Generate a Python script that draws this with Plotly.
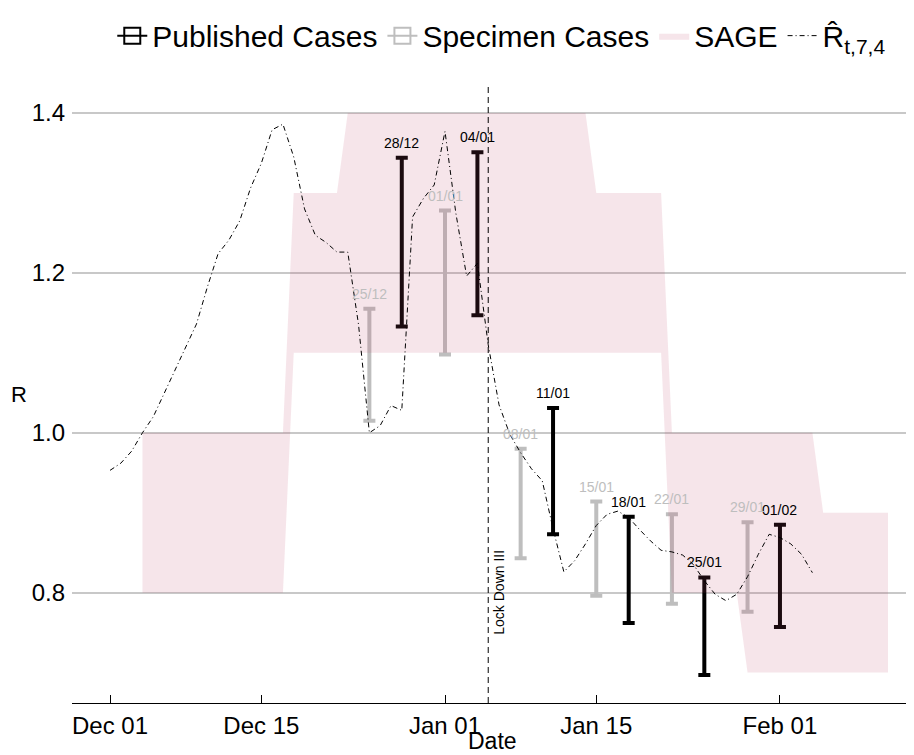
import pandas as pd
import plotly.graph_objects as go

# ---------------- data ----------------
r_hat_start = "2020-12-01"
r_hat = [0.953, 0.962, 0.977, 1.000, 1.020, 1.049, 1.078, 1.105, 1.136, 1.182,
         1.224, 1.241, 1.265, 1.306, 1.337, 1.379, 1.386, 1.345, 1.280, 1.247,
         1.238, 1.226, 1.226, 1.135, 1.000, 1.009, 1.034, 1.028, 1.270, 1.293,
         1.310, 1.377, 1.275, 1.196, 1.212, 1.110, 1.035, 0.998, 0.975, 0.955,
         0.940, 0.880, 0.826, 0.840, 0.861, 0.884, 0.898, 0.902, 0.894, 0.879,
         0.865, 0.853, 0.851, 0.847, 0.835, 0.815, 0.798, 0.790, 0.798, 0.820,
         0.848, 0.873, 0.869, 0.861, 0.848, 0.825]

sage_dates = ["2020-12-04", "2020-12-17", "2020-12-18", "2020-12-22", "2020-12-23",
              "2021-01-14", "2021-01-15", "2021-01-21", "2021-01-22", "2021-01-28",
              "2021-01-29", "2021-02-04", "2021-02-05", "2021-02-11"]
sage_low = [0.8, 0.8, 1.1, 1.1, 1.1, 1.1, 1.1, 1.1, 0.8, 0.8, 0.7, 0.7, 0.7, 0.7]
sage_high = [1.0, 1.0, 1.3, 1.3, 1.4, 1.4, 1.3, 1.3, 1.0, 1.0, 1.0, 1.0, 0.9, 0.9]

pub_dates = ["2020-12-28", "2021-01-04", "2021-01-11", "2021-01-18", "2021-01-25", "2021-02-01"]
pub_low = [1.133, 1.147, 0.873, 0.762, 0.697, 0.757]
pub_high = [1.344, 1.351, 1.031, 0.895, 0.819, 0.885]
pub_labels = ["28/12", "04/01", "11/01", "18/01", "25/01", "01/02"]

spec_dates = ["2020-12-25", "2021-01-01", "2021-01-08", "2021-01-15", "2021-01-22", "2021-01-29"]
spec_low = [1.015, 1.098, 0.843, 0.796, 0.786, 0.776]
spec_high = [1.155, 1.278, 0.980, 0.914, 0.898, 0.888]
spec_labels = ["25/12", "01/01", "08/01", "15/01", "22/01", "29/01"]

lockdown_date = "2021-01-05"
lockdown_label_date = "2021-01-06"
lockdown_label_y = 0.8
lockdown_label = "Lock Down III"

x_ticks = ["2020-12-01", "2020-12-15", "2021-01-01", "2021-01-15", "2021-02-01"]
x_ticktext = ["Dec 01", "Dec 15", "Jan 01", "Jan 15", "Feb 01"]
y_ticks = [0.8, 1.0, 1.2, 1.4]
y_ticktext = ["0.8", "1.0", "1.2", "1.4"]

# ---------------- styles ----------------
FONT = "Liberation Sans, Arial, Helvetica, sans-serif"
BLACK = "#000000"
GREY = "#BEBEBE"
PINK = "rgba(190,73,109,0.14)"

r_dates = pd.date_range(r_hat_start, periods=len(r_hat), freq="D")

def mids(lo, hi):
    return [(a + b) / 2 for a, b in zip(lo, hi)], [(b - a) / 2 for a, b in zip(lo, hi)]

pub_mid, pub_half = mids(pub_low, pub_high)
spec_mid, spec_half = mids(spec_low, spec_high)

fig = go.Figure()

# error bars (drawn first so the ribbon tints them)
fig.add_trace(go.Scatter(
    x=pub_dates, y=pub_mid, mode="markers", marker=dict(size=1, opacity=0),
    error_y=dict(type="data", array=pub_half, symmetric=True, color=BLACK,
                 thickness=4, width=6),
    showlegend=False, hoverinfo="skip"))
fig.add_trace(go.Scatter(
    x=spec_dates, y=spec_mid, mode="markers", marker=dict(size=1, opacity=0),
    error_y=dict(type="data", array=spec_half, symmetric=True, color=GREY,
                 thickness=4, width=6),
    showlegend=False, hoverinfo="skip"))

# legend entries for the error bars
fig.add_trace(go.Scatter(
    x=[None], y=[None], mode="lines+markers", name="Published Cases",
    line=dict(color=BLACK, width=2),
    marker=dict(symbol="square-open", size=22, color=BLACK, line=dict(width=2))))
fig.add_trace(go.Scatter(
    x=[None], y=[None], mode="lines+markers", name="Specimen Cases",
    line=dict(color=GREY, width=2),
    marker=dict(symbol="square-open", size=22, color=GREY, line=dict(width=2))))

# SAGE ribbon
fig.add_trace(go.Scatter(
    x=sage_dates, y=sage_low, mode="lines", line=dict(width=0, color=PINK),
    showlegend=False, hoverinfo="skip"))
fig.add_trace(go.Scatter(
    x=sage_dates, y=sage_high, mode="lines", line=dict(width=0, color=PINK),
    fill="tonexty", fillcolor=PINK, name="SAGE"))

# R hat curve
fig.add_trace(go.Scatter(
    x=r_dates, y=r_hat, mode="lines", name="R\u0302<sub>t,7,4</sub>",
    line=dict(color=BLACK, width=1, dash="5px,3px,1px,3px")))

# labels on bars
for d, h, t in zip(pub_dates, pub_high, pub_labels):
    fig.add_annotation(x=d, y=h, text=t, showarrow=False, yanchor="middle",
                       yshift=15, font=dict(size=14, color=BLACK, family=FONT))
for d, h, t in zip(spec_dates, spec_high, spec_labels):
    fig.add_annotation(x=d, y=h, text=t, showarrow=False, yanchor="middle",
                       yshift=15, font=dict(size=14, color=GREY, family=FONT))

# lockdown line + label
fig.add_vline(x=lockdown_date, line=dict(color=BLACK, width=1, dash="6px,4px"))
fig.add_annotation(x=lockdown_label_date, y=lockdown_label_y, text=lockdown_label,
                   textangle=-90, showarrow=False, xanchor="center", yanchor="middle",
                   font=dict(size=14, color=BLACK, family=FONT))

# axis titles
fig.add_annotation(xref="paper", yref="paper", x=-0.063, y=0.5, text="R",
                   showarrow=False, xanchor="center", yanchor="middle",
                   font=dict(size=22, color=BLACK, family=FONT))
fig.add_annotation(xref="paper", yref="paper", x=0.5, y=-0.061, text="Date",
                   showarrow=False, xanchor="center", yanchor="middle",
                   font=dict(size=23, color=BLACK, family=FONT))

# page body has an 8px default margin, so the figure is 8px smaller
fig.update_layout(
    width=906, height=747,
    margin=dict(l=64, r=1, t=77, b=52, autoexpand=False),
    paper_bgcolor="white", plot_bgcolor="white",
    font=dict(family=FONT, color=BLACK, size=24),
    legend=dict(orientation="h", x=0.545, xanchor="center", xref="container",
                y=0.963, yanchor="middle", yref="container", traceorder="normal",
                font=dict(size=30, family=FONT, color=BLACK),
                itemwidth=30, tracegroupgap=0, bgcolor="rgba(0,0,0,0)"),
    xaxis=dict(type="date", range=["2020-11-27 11:30", "2021-02-13 07:30"],
               tickvals=x_ticks, ticktext=x_ticktext, showgrid=False,
               zeroline=False, showline=True, linecolor=BLACK, linewidth=1,
               ticks="inside", ticklen=8, tickcolor=BLACK, tickwidth=1,
               tickfont=dict(size=24, family=FONT, color=BLACK),
               ticklabelstandoff=1, automargin=False),
    yaxis=dict(range=[0.662, 1.435], tickvals=y_ticks, ticktext=y_ticktext,
               showgrid=True, gridcolor="#C8C8C8", gridwidth=2, zeroline=False,
               showline=False, ticks="", automargin=False,
               tickfont=dict(size=24, family=FONT, color=BLACK),
               ticklabelstandoff=6),
    showlegend=True,
)

fig.write_html("out.html")
